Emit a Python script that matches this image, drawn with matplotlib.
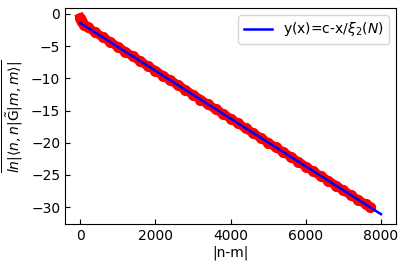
import matplotlib
matplotlib.use("Agg")
import matplotlib.pyplot as plt

# data
dist = [0, 20, 50, 100, 200, 400, 600, 800, 1000, 1200, 1400, 1600, 1800, 2000,
        2200, 2400, 2600, 2800, 3000, 3200, 3400, 3600, 3800, 4000, 4200, 4400,
        4600, 4800, 5000, 5200, 5400, 5600, 5800, 6000, 6200, 6400, 6600, 6800,
        7000, 7200, 7400, 7600, 7700]
lnG = [-0.6, -0.9, -1.3, -1.65, -2.05, -2.85, -3.6, -4.35, -5.1, -5.85, -6.6,
       -7.35, -8.1, -8.8, -9.6, -10.3, -11.05, -11.8, -12.55, -13.3, -14.05,
       -14.8, -15.5, -16.25, -17.0, -17.75, -18.5, -19.25, -20.0, -20.7, -21.45,
       -22.2, -22.95, -23.7, -24.45, -25.2, -25.9, -26.65, -27.4, -28.15, -28.9,
       -29.6, -29.95]
fit_x = [0, 8000]
fit_y = [-1.4, -31.1]

fig = plt.figure(figsize=(4.07, 2.66), dpi=100)
ax = fig.add_axes([0.16, 0.158, 0.813, 0.812])
ax.plot(dist, lnG, 'o-', color='red', lw=6.5, ms=7)
ax.plot(fit_x, fit_y, color='blue', lw=1.8, label=r'y(x)=c-x/$\xi_2(N)$')
ax.tick_params(direction='in', labelsize=10)
ax.set_xticks([0, 2000, 4000, 6000, 8000])
ax.set_yticks([0, -5, -10, -15, -20, -25, -30])
ax.set_xlabel('|n-m|', fontsize=10, labelpad=2)
ax.set_ylabel(r'$\overline{ln|\langle n,n|\tilde{\mathrm{G}}|m,m\rangle|}$', fontsize=10)
ax.legend(loc='upper right', fontsize=10)
fig.savefig('out.png', dpi=100)
